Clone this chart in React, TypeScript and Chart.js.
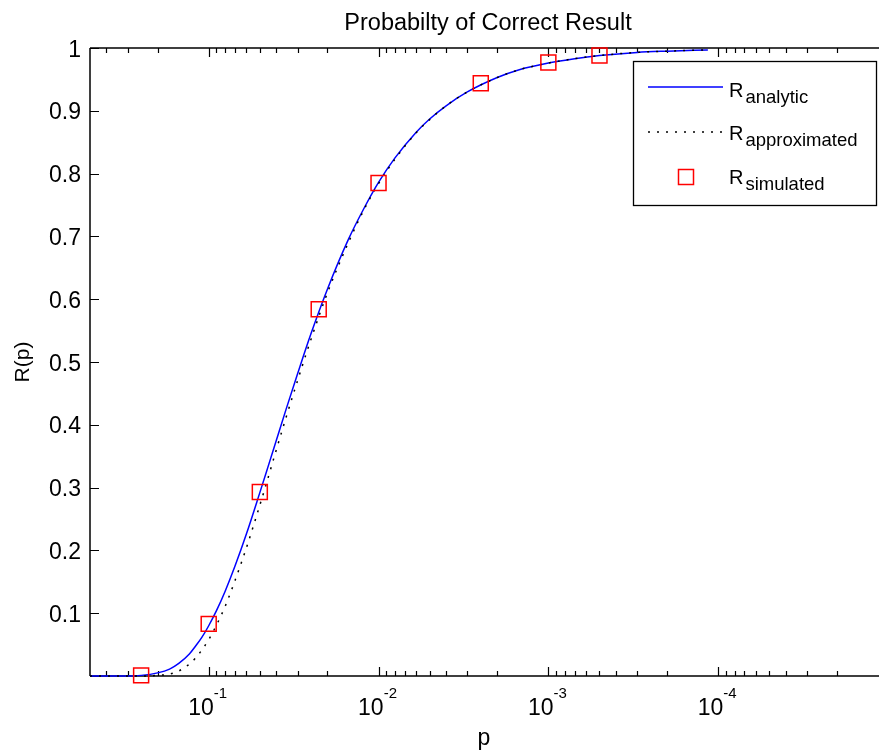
import React, { useEffect, useRef } from "react";
import { Chart, registerables } from "chart.js";

Chart.register(...registerables);

// ---------------- data ----------------
const TITLE = "Probabilty of Correct Result";
const X_LABEL = "p";
const Y_LABEL = "R(p)";

const X_MIN = 1.13e-5;
const X_MAX = 0.5;
const X_MAJOR_TICKS = [1e-1, 1e-2, 1e-3, 1e-4];
const X_MAJOR_EXP = ["-1", "-2", "-3", "-4"];
const Y_TICKS = [0, 0.1, 0.2, 0.3, 0.4, 0.5, 0.6, 0.7, 0.8, 0.9, 1];
const Y_TICK_LABELS = ["", "0.1", "0.2", "0.3", "0.4", "0.5", "0.6", "0.7", "0.8", "0.9", "1"];

const P_CURVE = [
  0.5, 0.4, 0.3, 0.25, 0.2, 0.17, 0.15, 0.13, 0.12, 0.11, 0.1, 0.09, 0.08, 0.07,
  0.06, 0.05, 0.045, 0.04, 0.035, 0.03, 0.025, 0.02, 0.015, 0.012, 0.01, 0.008,
  0.006, 0.005, 0.004, 0.003, 0.002, 0.0015, 0.001, 0.0007, 0.0005, 0.0003,
  0.0002, 0.000115,
];
const R_ANALYTIC = [
  0.0, 0.0, 0.0, 0.001, 0.005, 0.011, 0.02, 0.035, 0.047, 0.061, 0.08, 0.104,
  0.135, 0.175, 0.226, 0.292, 0.331, 0.375, 0.425, 0.481, 0.545, 0.616, 0.696,
  0.748, 0.786, 0.825, 0.866, 0.887, 0.908, 0.93, 0.953, 0.965, 0.976, 0.983,
  0.988, 0.993, 0.995, 0.997,
];
const R_APPROX = [
  0.0, 0.0, 0.0, 0.0, 0.001, 0.003, 0.008, 0.019, 0.028, 0.041, 0.058, 0.081,
  0.111, 0.152, 0.204, 0.272, 0.313, 0.36, 0.412, 0.47, 0.536, 0.61, 0.691,
  0.746, 0.784, 0.823, 0.865, 0.886, 0.908, 0.93, 0.953, 0.965, 0.976, 0.983,
  0.988, 0.993, 0.995, 0.997,
];

const P_SIM = [0.25, 0.1, 0.05, 0.0225, 0.01, 0.0025, 0.001, 0.0005];
const R_SIM = [0.001, 0.083, 0.293, 0.584, 0.785, 0.944, 0.977, 0.988];

const LEGEND_SUBS = ["analytic", "approximated", "simulated"];

// ---------------- styles ----------------
const FONT = '"Liberation Sans", Arial, Helvetica, sans-serif';
const BLUE = "#0000ff";
const RED = "#ff0000";
const DOT_DASH = [2, 7];

const matlabPlugin = {
  id: "matlabAxes",
  beforeDatasetsDraw(chart: any) {
    const { ctx, chartArea } = chart;
    const xs = chart.scales.x;
    const ys = chart.scales.y;
    const { left, right, top, bottom } = chartArea;
    ctx.save();
    ctx.strokeStyle = "#000";
    ctx.lineWidth = 1.5;
    // frame: left, bottom, top (right side lies beyond the canvas)
    ctx.beginPath();
    ctx.moveTo(left, top);
    ctx.lineTo(left, bottom);
    ctx.moveTo(left, bottom);
    ctx.lineTo(right + 2, bottom);
    ctx.moveTo(left, top);
    ctx.lineTo(right + 2, top);
    ctx.stroke();

    // x ticks (inward, bottom and top)
    ctx.lineWidth = 1.2;
    ctx.beginPath();
    for (let e = 0; e >= -6; e--) {
      for (let k = 1; k <= 9; k++) {
        const v = k * Math.pow(10, e);
        if (v <= X_MIN || v >= X_MAX) continue;
        const px = Math.round(xs.getPixelForValue(v)) + 0.5;
        const len = k === 1 ? 9 : 5;
        ctx.moveTo(px, bottom);
        ctx.lineTo(px, bottom - len);
        ctx.moveTo(px, top);
        ctx.lineTo(px, top + len);
      }
    }
    // y ticks (inward from left)
    for (const t of Y_TICKS) {
      const py = Math.round(ys.getPixelForValue(t)) + 0.5;
      ctx.moveTo(left, py);
      ctx.lineTo(left + 9, py);
    }
    ctx.stroke();

    // y tick labels
    ctx.fillStyle = "#000";
    ctx.font = `23px ${FONT}`;
    ctx.textAlign = "right";
    ctx.textBaseline = "alphabetic";
    Y_TICKS.forEach((t, i) => {
      const py = ys.getPixelForValue(t);
      ctx.fillText(Y_TICK_LABELS[i], left - 9, py + 8.5);
    });

    // x tick labels 10^n
    X_MAJOR_TICKS.forEach((v, i) => {
      const px = xs.getPixelForValue(v);
      ctx.font = `23px ${FONT}`;
      const wBase = ctx.measureText("10").width;
      ctx.font = `15px ${FONT}`;
      const wSup = ctx.measureText(X_MAJOR_EXP[i]).width;
      const start = px - (wBase + wSup) / 2 - 1;
      ctx.textAlign = "left";
      ctx.font = `23px ${FONT}`;
      ctx.fillText("10", start, bottom + 39);
      ctx.font = `15px ${FONT}`;
      ctx.fillText(X_MAJOR_EXP[i], start + wBase, bottom + 22);
    });

    // axis labels
    ctx.font = `23px ${FONT}`;
    ctx.textAlign = "center";
    ctx.fillText(X_LABEL, 484, bottom + 69);
    ctx.save();
    ctx.translate(29, (top + bottom) / 2);
    ctx.rotate(-Math.PI / 2);
    ctx.font = `21px ${FONT}`;
    ctx.fillText(Y_LABEL, 0, 0);
    ctx.restore();

    // title
    ctx.font = `23.5px ${FONT}`;
    ctx.textAlign = "center";
    ctx.fillText(TITLE, 488, 30);
    ctx.restore();
  },
  afterDraw(chart: any) {
    const { ctx } = chart;
    ctx.save();
    const bx0 = 633.5, by0 = 61.5, bx1 = 876.5, by1 = 205.5;
    ctx.fillStyle = "#fff";
    ctx.fillRect(bx0, by0, bx1 - bx0, by1 - by0);
    ctx.strokeStyle = "#000";
    ctx.lineWidth = 1.3;
    ctx.strokeRect(bx0, by0, bx1 - bx0, by1 - by0);

    const rowY = [87, 132, 177];
    const rBase = [97, 140, 184];
    // sample 1: solid blue
    ctx.strokeStyle = BLUE;
    ctx.lineWidth = 1.5;
    ctx.beginPath();
    ctx.moveTo(648, rowY[0]);
    ctx.lineTo(723, rowY[0]);
    ctx.stroke();
    // sample 2: dotted black
    ctx.strokeStyle = "#000";
    ctx.setLineDash(DOT_DASH);
    ctx.beginPath();
    ctx.moveTo(648, rowY[1]);
    ctx.lineTo(723, rowY[1]);
    ctx.stroke();
    ctx.setLineDash([]);
    // sample 3: red square
    ctx.strokeStyle = RED;
    ctx.lineWidth = 1.5;
    ctx.strokeRect(686 - 7.5, rowY[2] - 7.5, 15, 15);

    ctx.fillStyle = "#000";
    ctx.textAlign = "left";
    ctx.textBaseline = "alphabetic";
    LEGEND_SUBS.forEach((s, i) => {
      ctx.font = `20px ${FONT}`;
      ctx.fillText("R", 729, rBase[i]);
      const w = ctx.measureText("R").width;
      ctx.font = `18.5px ${FONT}`;
      ctx.fillText(s, 729 + w + 2, rBase[i] + 6);
    });
    ctx.restore();
  },
};

export default function App() {
  const canvasRef = useRef<HTMLCanvasElement | null>(null);

  useEffect(() => {
    document.body.style.margin = "0";
    const canvas = canvasRef.current;
    if (!canvas) return;
    const chart = new Chart(canvas, {
      type: "line",
      data: {
        datasets: [
          {
            label: "R_simulated",
            data: P_SIM.map((p, i) => ({ x: p, y: R_SIM[i] })),
            showLine: false,
            pointStyle: "rect",
            pointRadius: 10.6,
            pointBorderWidth: 1.5,
            pointBorderColor: RED,
            pointBackgroundColor: "rgba(0,0,0,0)",
            borderColor: RED,
            backgroundColor: "rgba(0,0,0,0)",
            clip: false,
            order: 0,
          } as any,
          {
            label: "R_approximated",
            data: P_CURVE.map((p, i) => ({ x: p, y: R_APPROX[i] })),
            borderColor: "#000",
            borderWidth: 1.5,
            borderDash: DOT_DASH,
            pointRadius: 0,
            fill: false,
            cubicInterpolationMode: "monotone",
            clip: false,
            order: 1,
          } as any,
          {
            label: "R_analytic",
            data: P_CURVE.map((p, i) => ({ x: p, y: R_ANALYTIC[i] })),
            borderColor: BLUE,
            borderWidth: 1.5,
            pointRadius: 0,
            fill: false,
            cubicInterpolationMode: "monotone",
            clip: false,
            order: 2,
          } as any,
        ],
      },
      options: {
        animation: false,
        responsive: false,
        maintainAspectRatio: false,
        events: [],
        layout: { autoPadding: false, padding: { left: 90, top: 48, right: 0, bottom: 75 } },
        plugins: {
          legend: { display: false },
          title: { display: false },
          tooltip: { enabled: false },
        },
        scales: {
          x: {
            type: "logarithmic",
            min: X_MIN,
            max: X_MAX,
            reverse: true,
            bounds: "data",
            display: false,
          },
          y: { type: "linear", min: 0, max: 1, display: false },
        },
      } as any,
      plugins: [matlabPlugin],
    });
    return () => chart.destroy();
  }, []);

  return (
    <div style={{ position: "absolute", left: 0, top: 0, width: 879, height: 751, background: "#fff" }}>
      <canvas ref={canvasRef} width={879} height={751} style={{ display: "block" }} />
    </div>
  );
}
